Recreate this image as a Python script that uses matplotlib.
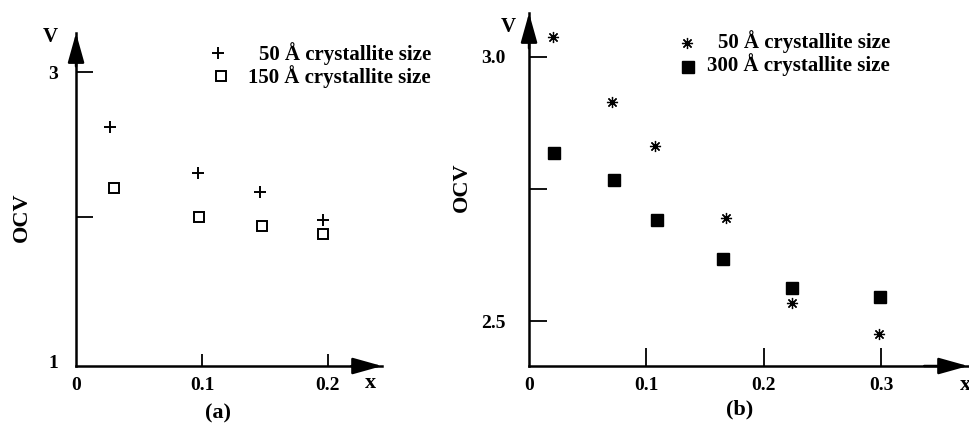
import numpy as np
import matplotlib.pyplot as plt

plt.rcParams['font.family'] = ['Liberation Serif', 'DejaVu Serif']
plt.rcParams['font.weight'] = 'bold'

# Panel (a) data
a_x_50 = [0.027, 0.097, 0.146, 0.196]
a_y_50 = [2.62, 2.30, 2.17, 1.98]
a_x_150 = [0.030, 0.098, 0.148, 0.196]
a_y_150 = [2.20, 2.00, 1.94, 1.88]

# Panel (b) data
b_x_50 = [0.020, 0.071, 0.107, 0.168, 0.224, 0.298]
b_y_50 = [3.038, 2.915, 2.831, 2.695, 2.534, 2.475]
b_x_300 = [0.021, 0.072, 0.109, 0.165, 0.224, 0.299]
b_y_300 = [2.818, 2.767, 2.691, 2.617, 2.562, 2.545]

a_xticks = [0, 0.1, 0.2]
a_xlabels = ['0', '0.1', '0.2']
a_yticks = [1, 2, 3]
a_ylabels = ['1', '', '3']
b_xticks = [0, 0.1, 0.2, 0.3]
b_xlabels = ['0', '0.1', '0.2', '0.3']
b_yticks = [2.5, 2.75, 3.0]
b_ylabels = ['2.5', '', '3.0']

fig = plt.figure(figsize=(9.7, 4.26), dpi=100)
ax_a = fig.add_axes([0.0784, 0.1408, 0.3155, 0.7817])
ax_b = fig.add_axes([0.5454, 0.1408, 0.4526, 0.8287])

FS = 14   # tick labels
LFS = 15  # legend text


def arrow_axes(ax):
    for s in ['top', 'right']:
        ax.spines[s].set_visible(False)
    for s in ['left', 'bottom']:
        ax.spines[s].set_linewidth(1.8)
    arr = dict(arrowstyle='-|>,head_length=1.0,head_width=0.28', color='black',
               lw=1.8, mutation_scale=18, shrinkA=0, shrinkB=0)
    ax.annotate('', xy=(1.0, 0), xytext=(0.9, 0), xycoords='axes fraction',
                arrowprops=arr, annotation_clip=False)
    ax.annotate('', xy=(0, 1.0), xytext=(0, 0.9), xycoords='axes fraction',
                arrowprops=arr, annotation_clip=False)
    ax.tick_params(direction='in', width=1.3, labelsize=FS)
    ax.tick_params(axis='x', length=9, pad=8)
    ax.tick_params(axis='y', length=12, pad=13)


# (a)
ax_a.plot(a_x_50, a_y_50, '+', color='black', ms=9, mew=1.4)
ax_a.plot(a_x_150, a_y_150, 's', mfc='white', mec='black', ms=7.5, mew=1.4)
ax_a.set_xlim(0, 0.243)
ax_a.set_ylim(0.97, 3.27)
ax_a.set_xticks(a_xticks, a_xlabels)
ax_a.set_yticks(a_yticks, a_ylabels)
arrow_axes(ax_a)
ax_a.xaxis.get_major_ticks()[0].tick1line.set_visible(False)
ax_a.yaxis.get_major_ticks()[0].tick1line.set_visible(False)
ax_a.text(-0.085, 0.988, 'V', transform=ax_a.transAxes, ha='center', va='center', fontsize=15)
ax_a.text(0.961, -0.051, 'x', transform=ax_a.transAxes, ha='center', va='center', fontsize=16)
ax_a.text(-0.176, 0.447, 'OCV', transform=ax_a.transAxes, ha='center', va='center',
          rotation=90, fontsize=16)
# legend (a)
ax_a.plot([0.464], [0.940], '+', color='black', ms=9, mew=1.4, transform=ax_a.transAxes, clip_on=False)
ax_a.plot([0.474], [0.871], 's', mfc='white', mec='black', ms=7.5, mew=1.4,
          transform=ax_a.transAxes, clip_on=False)
ax_a.text(1.160, 0.937, '50 Å crystallite size', transform=ax_a.transAxes, ha='right', va='center', fontsize=LFS)
ax_a.text(1.160, 0.868, '150 Å crystallite size', transform=ax_a.transAxes, ha='right', va='center', fontsize=LFS)

# (b)
ax_b.plot(b_x_50, b_y_50, ls='none', marker=(8, 2, 0), color='black', ms=8, mew=0.9)
ax_b.plot(b_x_300, b_y_300, 's', color='black', ms=9)
ax_b.set_xlim(0, 0.374)
ax_b.set_ylim(2.415, 3.083)
ax_b.set_xticks(b_xticks, b_xlabels)
ax_b.set_yticks(b_yticks, b_ylabels)
arrow_axes(ax_b)
ax_b.tick_params(axis='x', length=13)
ax_b.tick_params(axis='y', length=13, pad=17)
ax_b.xaxis.get_major_ticks()[0].tick1line.set_visible(False)
ax_b.text(-0.048, 0.960, 'V', transform=ax_b.transAxes, ha='center', va='center', fontsize=15)
ax_b.text(0.993, -0.054, 'x', transform=ax_b.transAxes, ha='center', va='center', fontsize=16)
ax_b.text(-0.153, 0.507, 'OCV', transform=ax_b.transAxes, ha='center', va='center',
          rotation=90, fontsize=16)
# legend (b)
ax_b.plot([0.360], [0.915], ls='none', marker=(8, 2, 0), color='black', ms=8, mew=0.9,
          transform=ax_b.transAxes, clip_on=False)
ax_b.plot([0.362], [0.847], 's', color='black', ms=9, transform=ax_b.transAxes, clip_on=False)
ax_b.text(0.822, 0.918, '50 Å crystallite size', transform=ax_b.transAxes, ha='right', va='center', fontsize=LFS)
ax_b.text(0.822, 0.853, '300 Å crystallite size', transform=ax_b.transAxes, ha='right', va='center', fontsize=LFS)

fig.text(0.2247, 0.0305, '(a)', ha='center', va='center', fontsize=16)
fig.text(0.763, 0.0376, '(b)', ha='center', va='center', fontsize=16)

fig.savefig('out.png', dpi=100)
